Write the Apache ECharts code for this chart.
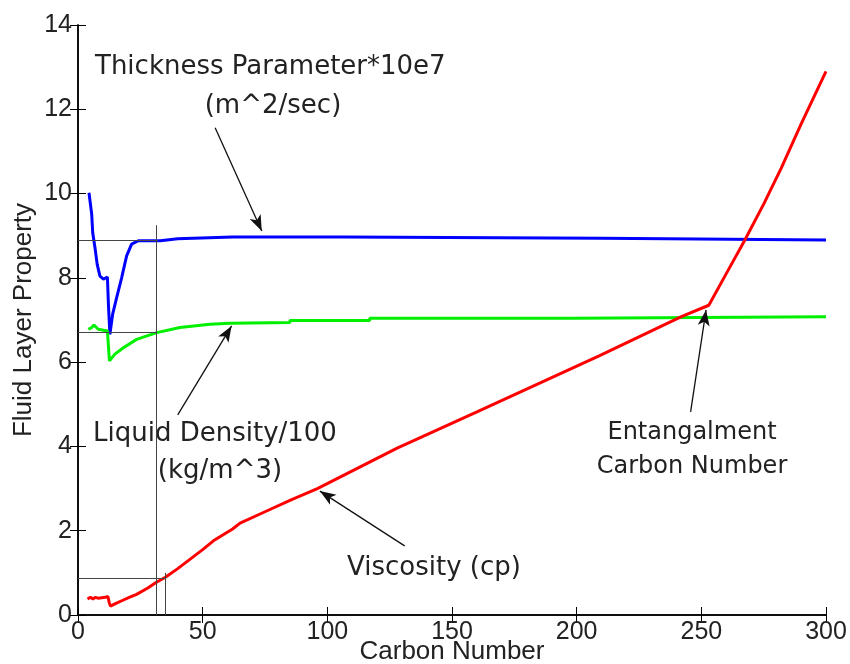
<!DOCTYPE html>
<html>
<head>
<meta charset="utf-8">
<script src="https://cdn.jsdelivr.net/npm/echarts@6/dist/echarts.min.js"></script>
<style>
  html, body { margin: 0; padding: 0; background: #fff; }
  #main { width: 850px; height: 664px; }
</style>
</head>
<body>
<div id="main"></div>
<script>
// carbon number / value pairs
var thickness = [
  [4.4, 10.02], [5.5, 9.51], [5.9, 9.07], [6.8, 8.72], [7.7, 8.32], [8.8, 8.04],
  [10.2, 7.97], [11.8, 8.02], [12.2, 7.37], [12.8, 6.66], [13.9, 7.14], [15.5, 7.53],
  [17.5, 8.0], [19.5, 8.52], [21.5, 8.8], [24.2, 8.88], [33, 8.88], [40, 8.93],
  [62, 8.97], [107, 8.97], [107, 8.94], [210, 8.94], [210, 8.9], [300, 8.9]
];
var density = [
  [4.1, 6.78], [5.5, 6.82], [6.4, 6.88], [8.1, 6.78], [11.8, 6.74], [12.6, 6.03],
  [14.8, 6.19], [18.2, 6.34], [23.5, 6.54], [31.6, 6.7], [40.9, 6.82], [52.9, 6.9],
  [61, 6.92], [85, 6.94], [85, 6.99], [117, 6.99], [117, 7.04], [199, 7.04],
  [199, 7.08], [300, 7.08]
];
var viscosity = [
  [3.8, 0.38], [5, 0.42], [6, 0.38], [7, 0.42], [8, 0.4], [11, 0.42], [12, 0.44],
  [12.5, 0.3], [13, 0.21], [15, 0.27], [18, 0.35], [21, 0.43], [23.5, 0.49],
  [28, 0.64], [31.3, 0.77], [34.9, 0.89], [40, 1.1], [50, 1.55], [54.3, 1.76],
  [62, 2.04], [65, 2.18], [75, 2.45], [85, 2.72], [96, 3.0], [128, 3.96],
  [160, 4.82], [209, 6.15], [242, 7.08], [253, 7.35], [260, 8.1], [267.3, 8.88],
  [275, 9.75], [282, 10.6], [290, 11.65], [300, 12.9]
];
// thin guide lines (start, end)
var guides = [
  [[0, 8.9], [32, 8.9]],
  [[0, 6.7], [31.5, 6.7]],
  [[0, 0.87], [35, 0.87]],
  [[31.3, 0], [31.3, 9.25]],
  [[34.9, 0], [34.9, 1.0]]
];
// annotation arrows (tail, head)
var arrows = [
  [[55, 11.56], [73.7, 9.11]],
  [[40, 4.75], [61.6, 6.86]],
  [[131, 1.64], [97, 2.94]],
  [[245.7, 4.82], [251.9, 7.24]]
];
var xTicks = { min: 0, max: 300, interval: 50 };
var yTicks = { min: 0, max: 14, interval: 2 };

var chart = echarts.init(document.getElementById('main'));

var axisFont = 'Liberation Sans';
var noteFont = 'DejaVu Sans';

function pairs(list) {
  return list.map(function (seg) {
    return [{ coord: seg[0] }, { coord: seg[1] }];
  });
}

function note(text, x, y, align, size) {
  return {
    type: 'text', x: x, y: y,
    style: {
      text: text, fill: '#222', font: (size || 26) + 'px "' + noteFont + '"',
      textAlign: align || 'left', textVerticalAlign: 'middle'
    }
  };
}

var option = {
  animation: false,
  backgroundColor: '#fff',
  grid: { left: 78, right: 24, top: 25, bottom: 49, outerBoundsMode: 'none', containLabel: false },
  xAxis: [
    {
      type: 'value', min: xTicks.min, max: xTicks.max, interval: xTicks.interval,
      name: 'Carbon Number', nameLocation: 'middle', nameGap: 24, nameMoveOverlap: false,
      nameTextStyle: { fontFamily: axisFont, fontSize: 26, color: '#222' },
      axisLine: { lineStyle: { color: '#000', width: 1.5 } },
      axisTick: { inside: true, length: 8, lineStyle: { color: '#000' } },
      axisLabel: { fontFamily: axisFont, fontSize: 25, color: '#222', margin: 5 },
      splitLine: { show: false }
    },
    {
      type: 'value', position: 'top', min: xTicks.min, max: xTicks.max, interval: xTicks.interval,
      axisLine: { show: true, lineStyle: { color: '#000', width: 1.5 } },
      axisTick: { show: true, inside: true, length: 8, lineStyle: { color: '#000' } },
      axisLabel: { show: false },
      splitLine: { show: false }
    }
  ],
  yAxis: [
    {
      type: 'value', min: yTicks.min, max: yTicks.max, interval: yTicks.interval,
      name: 'Fluid Layer Property', nameLocation: 'middle', nameGap: 41, nameMoveOverlap: false,
      nameTextStyle: { fontFamily: axisFont, fontSize: 26, color: '#222' },
      axisLine: { show: true, lineStyle: { color: '#000', width: 1.5 } },
      axisTick: { show: true, inside: true, length: 8, lineStyle: { color: '#000' } },
      axisLabel: { fontFamily: axisFont, fontSize: 25, color: '#222', margin: 6 },
      splitLine: { show: false }
    },
    {
      type: 'value', position: 'right', min: yTicks.min, max: yTicks.max, interval: yTicks.interval,
      axisLine: { show: true, lineStyle: { color: '#000', width: 1.5 } },
      axisTick: { show: true, inside: true, length: 8, lineStyle: { color: '#000' } },
      axisLabel: { show: false },
      splitLine: { show: false }
    }
  ],
  series: [
    {
      type: 'line', data: [], silent: true,
      markLine: {
        silent: true, symbol: ['none', 'none'], animation: false,
        lineStyle: { color: '#444', width: 1, type: 'solid' },
        label: { show: false },
        data: pairs(guides)
      }
    },
    {
      name: 'Thickness', type: 'line', data: thickness, showSymbol: false,
      lineStyle: { color: '#0000ff', width: 3 }, itemStyle: { color: '#0000ff' }
    },
    {
      name: 'Density', type: 'line', data: density, showSymbol: false,
      lineStyle: { color: '#00f000', width: 3 }, itemStyle: { color: '#00f000' }
    },
    {
      name: 'Viscosity', type: 'line', data: viscosity, showSymbol: false,
      lineStyle: { color: '#ff0000', width: 3 }, itemStyle: { color: '#ff0000' }
    },
    {
      type: 'line', data: [], silent: true,
      markLine: {
        silent: true, symbol: ['none', 'arrow'], symbolSize: [9, 16], animation: false,
        lineStyle: { color: '#111', width: 1.3, type: 'solid' },
        itemStyle: { color: '#111' },
        label: { show: false },
        data: pairs(arrows)
      }
    }
  ],
  graphic: [
    note('Thickness Parameter*10e7', 95, 67),
    note('(m^2/sec)', 273, 106, 'center'),
    note('Liquid Density/100', 93, 434),
    note('(kg/m^3)', 220, 471, 'center'),
    note('Viscosity (cp)', 434, 568, 'center'),
    note('Entangalment', 692, 433, 'center', 24),
    note('Carbon Number', 692, 467, 'center', 24)
  ]
};

chart.setOption(option);
</script>
</body>
</html>
